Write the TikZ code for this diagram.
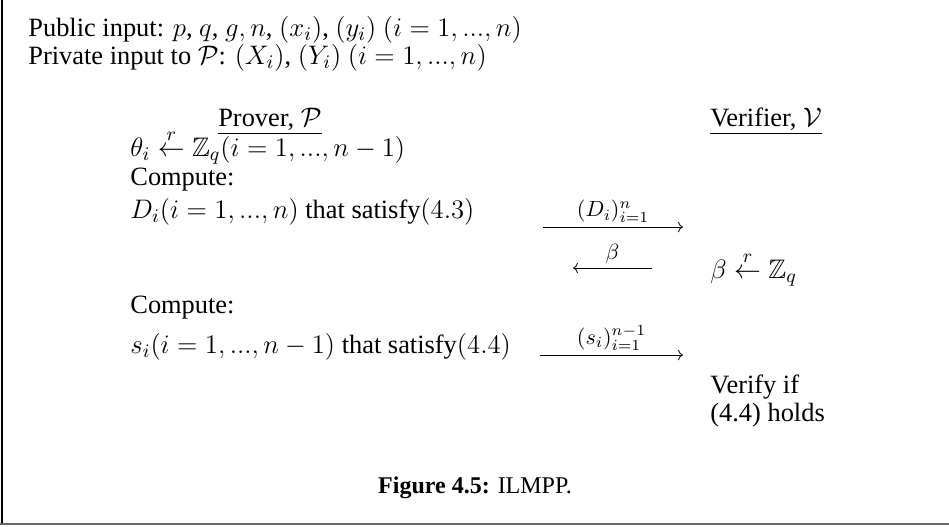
\RequirePackage{fix-cm}
\documentclass[tikz,border=0pt]{standalone}
\usepackage{amsmath,amssymb}
\usepackage[no-math]{fontspec}
\setmainfont{Liberation Serif}
\DeclareMathSizes{13.2}{13.4}{9.6}{7.2}
\usetikzlibrary{positioning,arrows.meta}

\begin{document}
\begin{tikzpicture}[x=0.5pt,y=-0.5pt,
		txt/.style={
			anchor=base west, inner sep=0pt,
			font=\fontsize{13.2}{15}\selectfont
		},
		head/.style={
			txt, anchor=base
		},
		msg/.style={->, thin, black},
		msglabel/.style={
			midway, above=2pt, inner sep=0pt, font=\fontsize{11}{13}\selectfont
		}
	]
	\useasboundingbox (0,0) rectangle (949,526);
	
	% frame
	\draw[line width=1pt] (2,0) -- (2,524);
	\draw[gray!80!black, line width=1.2pt] (0,524) -- (949,524);
	
	% inputs
	\node[txt] (public) at (28,36) {Public input: $p$, $q$, $g, n$, $(x_i)$, $(y_i)$ $(i=1,...,n)$};
	\node[txt] (private) at (28,64) {Private input to $\mathcal{P}$: $(X_i)$, $(Y_i)$ $(i=1,...,n)$};
	
	% parties
	\node[head] (prover) at (270,126) {\underline{Prover, $\mathcal{P}$}};
	\node[head] (verifier) at (766,126) {\underline{Verifier, $\mathcal{V}$}};
	
	% prover side
	\node[txt] (theta) at (130,156) {$\theta_i \stackrel{r}{\leftarrow} \mathbb{Z}_q(i=1,...,n-1)$};
	\node[txt] (compA) at (130,185) {Compute:};
	\node[txt] (dline) at (130,218) {$D_i(i=1,...,n)$ that satisfy$(4.3)$};
	\node[txt] (compB) at (130,313) {Compute:};
	\node[txt] (sline) at (130,353) {$s_i(i=1,...,n-1)$ that satisfy$(4.4)$};
	
	% verifier side
	\node[txt] (beta) at (710,278) {$\beta \stackrel{r}{\leftarrow} \mathbb{Z}_q$};
	\node[txt] (verify) at (710,393) {Verify if};
	\node[txt] (holds) at (710,421) {(4.4) holds};
	
	% message ends
	\coordinate (dA) at (543,227);
	\coordinate (dB) at (683,227);
	\coordinate (bA) at (652,268);
	\coordinate (bB) at (573,268);
	\coordinate (sA) at (540,355);
	\coordinate (sB) at (683,355);
	
	% messages
	\draw[msg] (dA) -- (dB) node[msglabel] (dlab) {$(D_i)_{i=1}^n$};
	\draw[msg] (bA) -- (bB) node[msglabel] (blab) {$\beta$};
	\draw[msg] (sA) -- (sB) node[msglabel] (slab) {$(s_i)_{i=1}^{n-1}$};
	
	% caption
	\node[head, font=\fontsize{12}{14}\selectfont] (caption) at (475,493) {\textbf{Figure 4.5:} ILMPP.};
\end{tikzpicture}
\end{document}
